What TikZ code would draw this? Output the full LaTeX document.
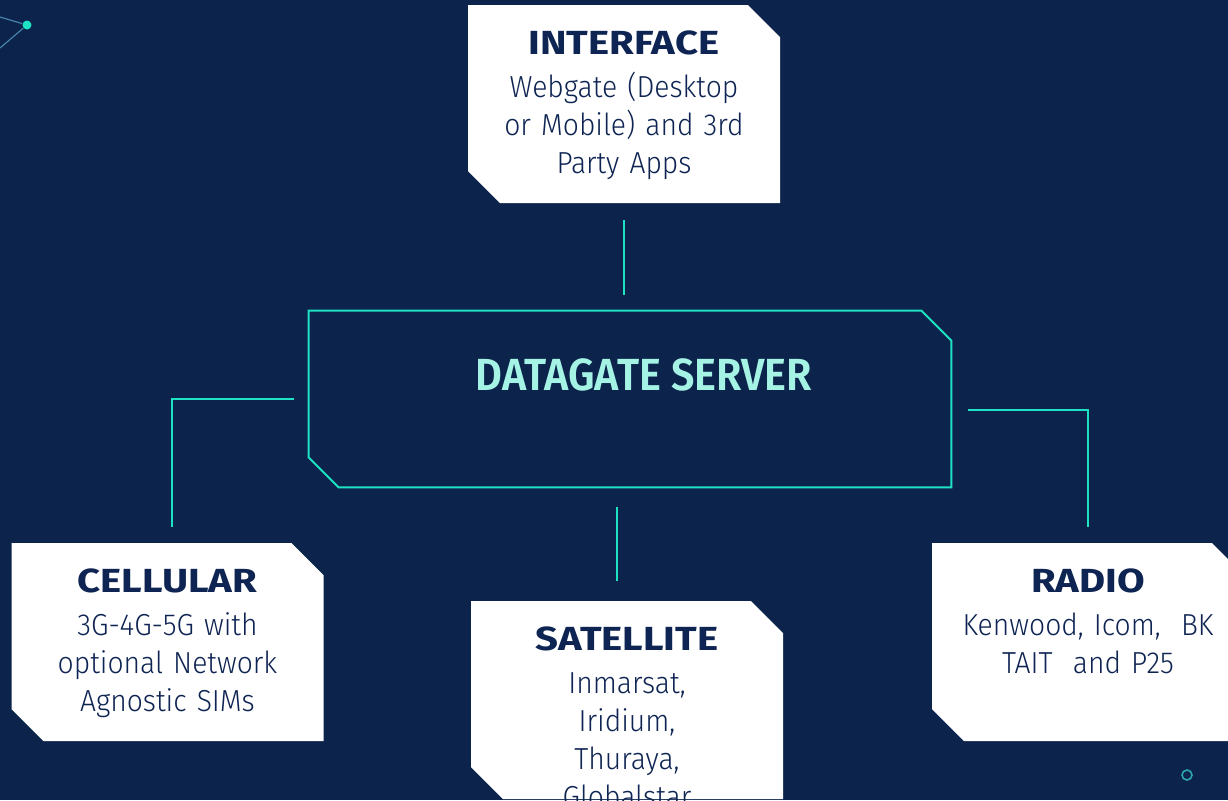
\documentclass[tikz,border=0pt]{standalone}
\usepackage{fontspec}
\setmainfont{Fira Sans Light}[FakeStretch=0.93]
\newfontfamily\headfont{Fira Sans Bold}[FakeStretch=1.2]
\newfontfamily\serverfont{Fira Sans SemiBold}[FakeStretch=0.92]
\definecolor{navy}{RGB}{12,36,76}
\definecolor{wire}{RGB}{29,226,196}
\definecolor{glow}{RGB}{165,243,228}
\definecolor{ink}{RGB}{14,36,82}
\definecolor{faint}{RGB}{70,130,170}
\definecolor{ringteal}{RGB}{45,165,170}

\begin{document}
\begin{tikzpicture}[x=0.5pt, y=-0.5pt,
  wire/.style = {draw=wire, line width=1pt},
  panel/.style = {minimum width=156pt, minimum height=99pt, inner sep=0pt, fill=navy,
    text width=150pt, align=center, text=ink, text height=12pt, text depth=62pt,
    font=\fontsize{15.2}{19}\selectfont,
    path picture={\fill[white] (path picture bounding box.north west)
      -- ([xshift=-16pt]path picture bounding box.north east)
      -- ([yshift=-16pt]path picture bounding box.north east)
      -- (path picture bounding box.south east)
      -- ([xshift=16pt]path picture bounding box.south west)
      -- ([yshift=16pt]path picture bounding box.south west) -- cycle;}},
  server/.style = {minimum width=321pt, minimum height=88pt, inner sep=0pt, text=glow,
    font=\serverfont\fontsize{22.5}{27}\selectfont, text height=15.5pt, text depth=24.5pt},
  spark/.style = {circle, fill=wire, minimum size=4.5pt, inner sep=0pt},
  ring/.style = {circle, draw=ringteal, line width=0.8pt, minimum size=5pt, inner sep=0pt}]
\useasboundingbox (0,0) rectangle (1228,800);
\fill[navy] (0,0) rectangle (1228,800);

% corner marks
\node[spark] (spark) at (27,25) {};
\coordinate (sparkW) at (0,17);
\coordinate (sparkSW) at (0,48);
\draw[faint, line width=0.6pt] (sparkW) -- (spark) -- (sparkSW);
\node[ring] (ring) at (1187,775) {};

\newcommand{\head}[1]{{\headfont\fontsize{16.7}{19}\selectfont #1}\\[2.5pt]}
\node[panel] (interface) at (624,104) {\head{INTERFACE}Webgate (Desktop\\ or Mobile) and 3rd\\ Party Apps};
\node[server] (server) at (630,399) {\hspace*{14pt}DATAGATE SERVER};
\node[panel] (cellular) at (167.5,642) {\head{CELLULAR}3G-4G-5G with\\ optional Network\\ Agnostic SIMs};
\node[panel] (satellite) at (627,700) {\head{SATELLITE}Inmarsat,\\ Iridium,\\ Thuraya,\\ Globalstar};
\node[panel] (radio) at (1088,642) {\head{RADIO}Kenwood, Icom,\ \ BK\\ TAIT\ \ and P25};

\draw[wire] (server.north west) -- ([xshift=-15pt]server.north east) -- ([yshift=-15pt]server.north east)
  -- (server.south east) -- ([xshift=15pt]server.south west) -- ([yshift=15pt]server.south west) -- cycle;

% links
\draw[wire, shorten <=8.5pt, shorten >=8pt] (interface.south) -- (interface.south |- server.north);
\draw[wire, shorten <=10pt, shorten >=10pt] ([xshift=-5pt]satellite.north |- server.south) -- ([xshift=-5pt]satellite.north);
\draw[wire, shorten >=8pt] ([xshift=-7.5pt]server.west) -| ([xshift=2.25pt]cellular.north);
\draw[wire, shorten >=8pt] ([xshift=8.5pt, yshift=-5.5pt]server.east) -| (radio.north);
\end{tikzpicture}
\end{document}
